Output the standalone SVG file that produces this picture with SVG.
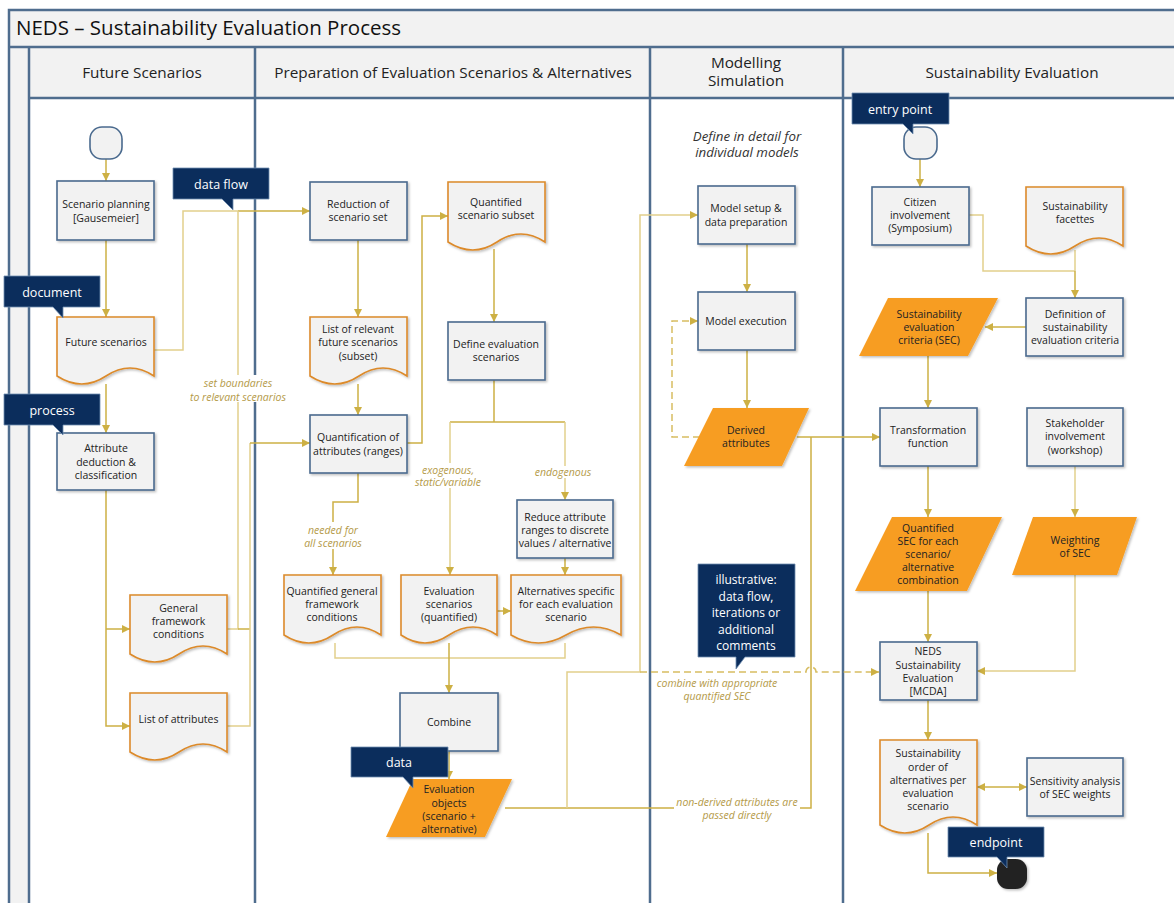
<svg xmlns="http://www.w3.org/2000/svg" width="1174" height="903" viewBox="0 0 1174 903">
<defs>
<filter id="sh" x="-10%" y="-10%" width="130%" height="130%"><feDropShadow dx="1.5" dy="1.5" stdDeviation="1.2" flood-color="#000" flood-opacity="0.25"/></filter>
<marker id="ar" viewBox="0 0 8 8" refX="8" refY="4" markerWidth="8" markerHeight="8" markerUnits="userSpaceOnUse" orient="auto-start-reverse"><path d="M0,0 L8,4 L0,8 z" fill="#cdb044"/></marker>
<style>
.lane{stroke:#4f6d8e;stroke-width:2.5;fill:none}
.bg{fill:#f2f2f2}
.proc{fill:#f2f2f2;stroke:#4a6a8e;stroke-width:1.6;filter:url(#sh)}
.doc{fill:#f2f2f2;stroke:#dc8a2a;stroke-width:1.6;filter:url(#sh)}
.dat{fill:#f79d20;filter:url(#sh)}
.term{fill:#f2f2f2;stroke:#4a6a8e;stroke-width:1.6}
.co{fill:#0b2d5c;stroke:#6f8db0;stroke-width:0.8}
.cot{font-family:'Open Sans','Noto Sans',sans-serif;font-size:12.5px;fill:#fff;text-anchor:middle}
.cos{font-family:'Open Sans','Noto Sans',sans-serif;font-size:12px;fill:#fff;text-anchor:middle}
.t{font-family:'Open Sans','Noto Sans',sans-serif;font-size:10.5px;fill:#222;text-anchor:middle}
.h{font-family:'Open Sans','Noto Sans',sans-serif;font-size:15.3px;fill:#222;text-anchor:middle}
.lb{font-family:'Open Sans','Noto Sans',sans-serif;font-size:10.5px;font-style:italic;fill:#b49a48;text-anchor:middle}
.ln{stroke:#cdb044;stroke-width:1.5;fill:none}
.ll{stroke:#e2d08c;stroke-width:1.5;fill:none}
.dl{stroke:#d7bd62;stroke-width:1.5;fill:none;stroke-dasharray:7,4}
.a{marker-end:url(#ar)}
</style>
</defs>
<rect width="1174" height="903" fill="#fff"/>
<g id="frame">
<rect class="bg" x="9" y="10" width="1170" height="37"/>
<rect class="bg" x="29" y="47" width="1150" height="51"/>
<rect class="bg" x="9" y="47" width="20" height="860"/>
<path class="lane" d="M9,905 V10 H1180 M9,47 H1180 M29,98 H1180 M29,47 V905 M255,47 V905 M650,47 V905 M843,47 V905"/>
<text x="16" y="35" font-family="'Open Sans','Noto Sans',sans-serif" font-size="20.5" fill="#111">NEDS – Sustainability Evaluation Process</text>
<text class="h" x="142" y="78">Future Scenarios</text>
<text class="h" x="453" y="78">Preparation of Evaluation Scenarios &amp; Alternatives</text>
<text class="h" x="746" y="68">Modelling</text>
<text class="h" x="746" y="86">Simulation</text>
<text class="h" x="1012" y="78">Sustainability Evaluation</text>
</g>
<g id="connectors">
<path class="ln a" d="M106,159 V181"/>
<path class="ln a" d="M106,240 V317"/>
<path class="ln a" d="M106,384 V433"/>
<path class="ln a" d="M106,490 V726 H130"/>
<path class="ln a" d="M106,629 H130"/>
<path class="ll" d="M154,350 H183 V211 H238"/>
<path class="ln a" d="M238,211 H310"/>
<path class="ll" d="M227,629 H238 V211"/>
<path class="ln" d="M238,629 H250"/>
<path class="ll" d="M227,726 H250 V443"/>
<path class="ln a" d="M250,443 H310"/>
<path class="ln a" d="M358,240 V317"/>
<path class="ln a" d="M358,384 V415"/>
<path class="ln a" d="M407,443 H422 V216 H448"/>
<path class="ln a" d="M494,249 V322"/>
<path class="ln" d="M494,380 V422 M450,422 H565"/>
<path class="ll a" d="M450,422 V575"/>
<path class="ll a" d="M565,422 V500"/>
<path class="ln a" d="M565,558 V575"/>
<path class="ln a" d="M497,611 H511"/>
<path class="ln a" d="M358,473 V502 H333 V575"/>
<path class="ll" d="M335,643 V658 H565 V643"/>
<path class="ln a" d="M449,643 V693"/>
<path class="ln a" d="M449,751 V779"/>
<path class="ln" d="M505,808 H811 V437"/>
<path class="ll a" d="M567,808 V672 H640 V215 H698"/>
<path class="dl a" d="M640,672 H806 A5,5 0 0 1 816,672 H879"/>
<path class="ln a" d="M747,244 V292"/>
<path class="ln a" d="M747,350 V408"/>
<path class="dl a" d="M700,437 H672 V321 H698"/>
<path class="ln a" d="M797,437 H880"/>
<path class="ln a" d="M920,159 V187"/>
<path class="ll" d="M969,215 H983 V271 H1075"/>
<path class="ll" d="M1075,250 V271"/>
<path class="ln a" d="M1075,271 V298"/>
<path class="ln a" d="M1026,327 H985"/>
<path class="ln a" d="M928,356 V408"/>
<path class="ln a" d="M928,466 V517"/>
<path class="ll a" d="M1075,466 V517"/>
<path class="ln a" d="M928,591 V642"/>
<path class="ll a" d="M1075,575 V671 H977"/>
<path class="ln a" d="M928,700 V740"/>
<path class="ln a" d="M977,787 H1027" marker-start="url(#ar)"/>
<path class="ln a" d="M928,833 V873 H997"/>
<rect x="188" y="375" width="100" height="27" fill="#fff"/>
<text class="lb" x="238" y="387">set boundaries</text>
<text class="lb" x="238" y="401">to relevant scenarios</text>
<rect x="300" y="522" width="66" height="27" fill="#fff"/>
<text class="lb" x="333" y="534">needed for</text>
<text class="lb" x="333" y="547">all scenarios</text>
<rect x="410" y="463" width="78" height="25" fill="#fff"/>
<text class="lb" x="448" y="474">exogenous,</text>
<text class="lb" x="448" y="486">static/variable</text>
<rect x="533" y="466" width="62" height="12" fill="#fff"/>
<text class="lb" x="563" y="476">endogenous</text>
<text class="lb" x="717" y="687">combine with appropriate</text>
<text class="lb" x="717" y="700">quantified SEC</text>
<rect x="674" y="797" width="126" height="24" fill="#fff"/>
<text class="lb" x="737" y="806">non-derived attributes are</text>
<text class="lb" x="737" y="819">passed directly</text>
<text x="747" y="141" font-family="'Open Sans','Noto Sans',sans-serif" font-size="13.3" font-style="italic" fill="#333" text-anchor="middle">Define in detail for</text>
<text x="747" y="157" font-family="'Open Sans','Noto Sans',sans-serif" font-size="13.3" font-style="italic" fill="#333" text-anchor="middle">individual models</text>
</g>
<g id="start"><rect class="term" x="90" y="127" width="32" height="32" rx="12"/></g>
<g id="scenario-planning"><rect class="proc" x="57" y="181" width="97" height="59"/><text class="t" x="106" y="207.5">Scenario planning</text><text class="t" x="106" y="221.5">[Gausemeier]</text></g>
<g id="future-scenarios"><path class="doc" d="M57,317 H154 V376 Q130,360 106,376 Q82,392 57,376 Z"/><text class="t" x="106" y="345.5">Future scenarios</text></g>
<g id="attribute-deduction"><rect class="proc" x="57" y="433" width="97" height="57"/><text class="t" x="106" y="451.5">Attribute</text><text class="t" x="106" y="465.5">deduction &amp;</text><text class="t" x="106" y="478.5">classification</text></g>
<g id="general-framework"><path class="doc" d="M130,595 H227 V654 Q203,638 179,654 Q155,670 130,654 Z"/><text class="t" x="178.5" y="611.5">General</text><text class="t" x="178.5" y="624.5">framework</text><text class="t" x="178.5" y="637.5">conditions</text></g>
<g id="list-attributes"><path class="doc" d="M130,693 H227 V752 Q203,736 179,752 Q155,768 130,752 Z"/><text class="t" x="178.5" y="722.5">List of attributes</text></g>
<g id="reduction"><rect class="proc" x="310" y="182" width="97" height="58"/><text class="t" x="358" y="207.5">Reduction of</text><text class="t" x="358" y="220.5">scenario set</text></g>
<g id="list-relevant"><path class="doc" d="M310,317 H407 V376 Q383,360 359,376 Q335,392 310,376 Z"/><text class="t" x="358" y="332.5">List of relevant</text><text class="t" x="358" y="345.5">future scenarios</text><text class="t" x="358" y="359.5">(subset)</text></g>
<g id="quantification"><rect class="proc" x="310" y="415" width="97" height="58"/><text class="t" x="358" y="440.5">Quantification of</text><text class="t" x="358" y="454.5">attributes (ranges)</text></g>
<g id="quantified-subset"><path class="doc" d="M448,182 H545 V242 Q521,226 497,242 Q473,258 448,242 Z"/><text class="t" x="496" y="205.5">Quantified</text><text class="t" x="496" y="218.5">scenario subset</text></g>
<g id="define-eval"><rect class="proc" x="448" y="322" width="97" height="58"/><text class="t" x="496" y="347.5">Define evaluation</text><text class="t" x="496" y="360.5">scenarios</text></g>
<g id="reduce-ranges"><rect class="proc" x="517" y="500" width="96" height="58"/><text class="t" x="565" y="520.5">Reduce attribute</text><text class="t" x="565" y="533.5">ranges to discrete</text><text class="t" x="565" y="546.5">values / alternative</text></g>
<g id="quantified-general"><path class="doc" d="M284,575 H381 V635 Q357,619 333,635 Q309,651 284,635 Z"/><text class="t" x="332" y="594.5">Quantified general</text><text class="t" x="332" y="607.5">framework</text><text class="t" x="332" y="620.5">conditions</text></g>
<g id="eval-scenarios"><path class="doc" d="M401,575 H497 V635 Q473,619 449,635 Q425,651 401,635 Z"/><text class="t" x="449" y="594.5">Evaluation</text><text class="t" x="449" y="607.5">scenarios</text><text class="t" x="449" y="620.5">(quantified)</text></g>
<g id="alternatives"><path class="doc" d="M511,575 H621 V635 Q593.5,619 566,635 Q538.5,651 511,635 Z"/><text class="t" x="566" y="594.5">Alternatives specific</text><text class="t" x="566" y="607.5">for each evaluation</text><text class="t" x="566" y="620.5">scenario</text></g>
<g id="combine"><rect class="proc" x="400" y="693" width="98" height="58"/><text class="t" x="449" y="725.5">Combine</text></g>
<g id="eval-objects"><path class="dat" d="M413,779 H512 L485,837 H386 Z"/><text class="t" x="449" y="792.5">Evaluation</text><text class="t" x="449" y="806.5">objects</text><text class="t" x="449" y="819.5">(scenario +</text><text class="t" x="449" y="832.5">alternative)</text></g>
<g id="model-setup"><rect class="proc" x="698" y="186" width="97" height="58"/><text class="t" x="746" y="211.5">Model setup &amp;</text><text class="t" x="746" y="225.5">data preparation</text></g>
<g id="model-exec"><rect class="proc" x="698" y="292" width="97" height="58"/><text class="t" x="746" y="324.5">Model execution</text></g>
<g id="derived"><path class="dat" d="M713,408 H809 L782,466 H684 Z"/><text class="t" x="746" y="433.5">Derived</text><text class="t" x="746" y="446.5">attributes</text></g>
<g id="entry"><rect class="term" x="904" y="127" width="33" height="32" rx="12"/></g>
<g id="citizen"><rect class="proc" x="872" y="187" width="97" height="58"/><text class="t" x="920" y="205.5">Citizen</text><text class="t" x="920" y="218.5">involvement</text><text class="t" x="920" y="231.5">(Symposium)</text></g>
<g id="facettes"><path class="doc" d="M1026,187 H1123 V246 Q1099,230 1075,246 Q1051,262 1026,246 Z"/><text class="t" x="1075" y="209.5">Sustainability</text><text class="t" x="1075" y="222.5">facettes</text></g>
<g id="definition"><rect class="proc" x="1026" y="298" width="97" height="58"/><text class="t" x="1075" y="317.5">Definition of</text><text class="t" x="1075" y="330.5">sustainability</text><text class="t" x="1075" y="343.5">evaluation criteria</text></g>
<g id="sec"><path class="dat" d="M888,298 H998 L968,356 H859 Z"/><text class="t" x="929" y="317.5">Sustainability</text><text class="t" x="929" y="330.5">evaluation</text><text class="t" x="929" y="343.5">criteria (SEC)</text></g>
<g id="transformation"><rect class="proc" x="880" y="408" width="97" height="58"/><text class="t" x="928" y="433.5">Transformation</text><text class="t" x="928" y="446.5">function</text></g>
<g id="stakeholder"><rect class="proc" x="1027" y="408" width="96" height="58"/><text class="t" x="1075" y="426.5">Stakeholder</text><text class="t" x="1075" y="439.5">involvement</text><text class="t" x="1075" y="453.5">(workshop)</text></g>
<g id="quantified-sec"><path class="dat" d="M892,517 H1002 L967,591 H855 Z"/><text class="t" x="928" y="531.5">Quantified</text><text class="t" x="928" y="544.5">SEC for each</text><text class="t" x="928" y="557.5">scenario/</text><text class="t" x="928" y="570.5">alternative</text><text class="t" x="928" y="583.5">combination</text></g>
<g id="weighting"><path class="dat" d="M1033,517 H1137 L1117,575 H1012 Z"/><text class="t" x="1075" y="543.5">Weighting</text><text class="t" x="1075" y="556.5">of SEC</text></g>
<g id="neds-eval"><rect class="proc" x="880" y="642" width="97" height="58"/><text class="t" x="928" y="654.5">NEDS</text><text class="t" x="928" y="668.5">Sustainability</text><text class="t" x="928" y="681.5">Evaluation</text><text class="t" x="928" y="694.5">[MCDA]</text></g>
<g id="order"><path class="doc" d="M880,740 H977 V825 Q953,809 929,825 Q905,841 880,825 Z"/><text class="t" x="928" y="756.5">Sustainability</text><text class="t" x="928" y="770.5">order of</text><text class="t" x="928" y="783.5">alternatives per</text><text class="t" x="928" y="796.5">evaluation</text><text class="t" x="928" y="809.5">scenario</text></g>
<g id="sensitivity"><rect class="proc" x="1027" y="758" width="96" height="58"/><text class="t" x="1075" y="784.5">Sensitivity analysis</text><text class="t" x="1075" y="797.5">of SEC weights</text></g>
<g id="end"><rect x="997" y="859" width="30" height="30" rx="11" fill="#222" filter="url(#sh)"/></g>
<g id="callout-dataflow"><path class="co" d="M173,168 H269 V199 H233 V210 L222,199 H173 Z"/><text class="cot" x="221" y="188.5">data flow</text></g>
<g id="callout-document"><path class="co" d="M4,276 H100 V307 H63 V318 L53,307 H4 Z"/><text class="cot" x="52" y="296.5">document</text></g>
<g id="callout-process"><path class="co" d="M4,394 H100 V425 H63 V435 L53,425 H4 Z"/><text class="cot" x="52" y="415">process</text></g>
<g id="callout-entry"><path class="co" d="M852,93 H949 V124 H913 V134 L903,124 H852 Z"/><text class="cot" x="900" y="113.5">entry point</text></g>
<g id="callout-data"><path class="co" d="M351,747 H448 V777 H413 V788 L403,777 H351 Z"/><text class="cot" x="399" y="767">data</text></g>
<g id="callout-illustrative"><path class="co" d="M698,564 H795 V657 H745 L736,669 V657 H698 Z"/><text class="cos" x="746" y="584">illustrative:</text><text class="cos" x="746" y="600.5">data flow,</text><text class="cos" x="746" y="617">iterations or</text><text class="cos" x="746" y="633.5">additional</text><text class="cos" x="746" y="650">comments</text></g>
<g id="callout-endpoint"><path class="co" d="M948,827 H1044 V857 H1007 V868 L997,857 H948 Z"/><text class="cot" x="996" y="847">endpoint</text></g>
</svg>
